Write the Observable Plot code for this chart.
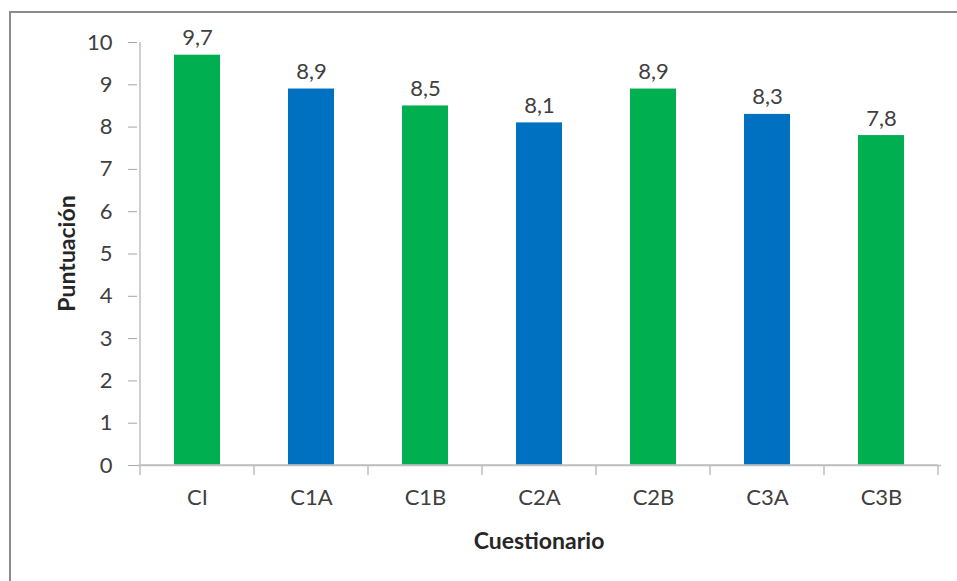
<!DOCTYPE html>
<html>
<head>
<meta charset="utf-8">
<script src="https://cdn.jsdelivr.net/npm/d3@7"></script>
<script src="https://cdn.jsdelivr.net/npm/@observablehq/plot@0.6"></script>
<style>
  html, body { margin: 0; padding: 0; background: #fff; overflow: hidden; }
  #wrap { position: relative; width: 957px; height: 581px; }
  #border { position: absolute; left: 9px; top: 11px; width: 1000px; height: 700px; border: 2px solid #8c8c8c; box-sizing: border-box; pointer-events: none; }
  svg { font-family: Lato, "Open Sans", sans-serif; }
</style>
</head>
<body>
<div id="wrap"><div id="border"></div></div>
<script>
const categories = ["CI", "C1A", "C1B", "C2A", "C2B", "C3A", "C3B"];
const scores = [9.7, 8.9, 8.5, 8.1, 8.9, 8.3, 7.8];
const groups = ["serie1", "serie2", "serie1", "serie2", "serie1", "serie2", "serie1"];
const yTicks = [0, 1, 2, 3, 4, 5, 6, 7, 8, 9, 10];

const data = categories.map((c, i) => ({cat: c, value: scores[i], group: groups[i]}));
const fmt = v => v.toFixed(1).replace(".", ",");

const chart = Plot.plot({
  width: 957,
  height: 581,
  marginLeft: 137,
  marginRight: 16,
  marginTop: 42,
  marginBottom: 116,
  style: {fontSize: "22px", color: "#404040", background: "transparent"},
  x: {domain: categories, paddingInner: 0.6, paddingOuter: 0.3, label: null},
  y: {domain: [0, 10], label: null},
  color: {domain: ["serie1", "serie2"], range: ["#00B050", "#0070C0"]},
  marks: [
    Plot.barY(data, {x: "cat", y: "value", fill: "group"}),
    Plot.text(data, {x: "cat", y: "value", text: d => fmt(d.value), lineAnchor: "bottom", dy: -10, fill: "#404040", fontSize: 22}),
    Plot.axisY({ticks: yTicks, tickSize: 9, tickPadding: 16, stroke: "#a6a6a6", fill: "#404040", fontSize: 22, label: null}),
    Plot.axisX({tickSize: 0, tickPadding: 24, fill: "#404040", fontSize: 22, label: null}),
    Plot.ruleY([0], {stroke: "#bfbfbf", strokeWidth: 1.5})
  ]
});

// Axis lines and category-boundary ticks derived from the plot's own scales
const xs = chart.scale("x");
const ys = chart.scale("y");
const svg = d3.select(chart);
const centers = categories.map(c => xs.apply(c) + xs.bandwidth / 2);
const bounds = [centers[0] - xs.step / 2, ...centers.map(c => c + xs.step / 2)];
const y0 = ys.apply(0), y10 = ys.apply(10);
const g = svg.append("g").attr("stroke", "#bfbfbf").attr("stroke-width", 1.5);
g.append("line").attr("x1", bounds[0]).attr("x2", bounds[0]).attr("y1", y10).attr("y2", y0 + 10);
g.selectAll("line.b").data(bounds.slice(1)).join("line").attr("class", "b")
  .attr("x1", d => d).attr("x2", d => d).attr("y1", y0).attr("y2", y0 + 10);
g.append("line").attr("x1", bounds[0]).attr("x2", bounds[bounds.length - 1]).attr("y1", y0).attr("y2", y0);

// Axis titles
svg.append("text").attr("x", (bounds[0] + bounds[bounds.length - 1]) / 2).attr("y", y0 + 84)
  .attr("text-anchor", "middle").attr("font-weight", "bold").attr("font-size", 23).attr("fill", "#262626")
  .text("Cuestionario");
svg.append("text").attr("transform", `translate(75,${(y0 + y10) / 2}) rotate(-90)`)
  .attr("text-anchor", "middle").attr("font-weight", "bold").attr("font-size", 23).attr("fill", "#262626")
  .text("Puntuación");

document.getElementById("wrap").prepend(chart);
chart.style.position = "absolute";
chart.style.left = "0";
chart.style.top = "0";
</script>
</body>
</html>
